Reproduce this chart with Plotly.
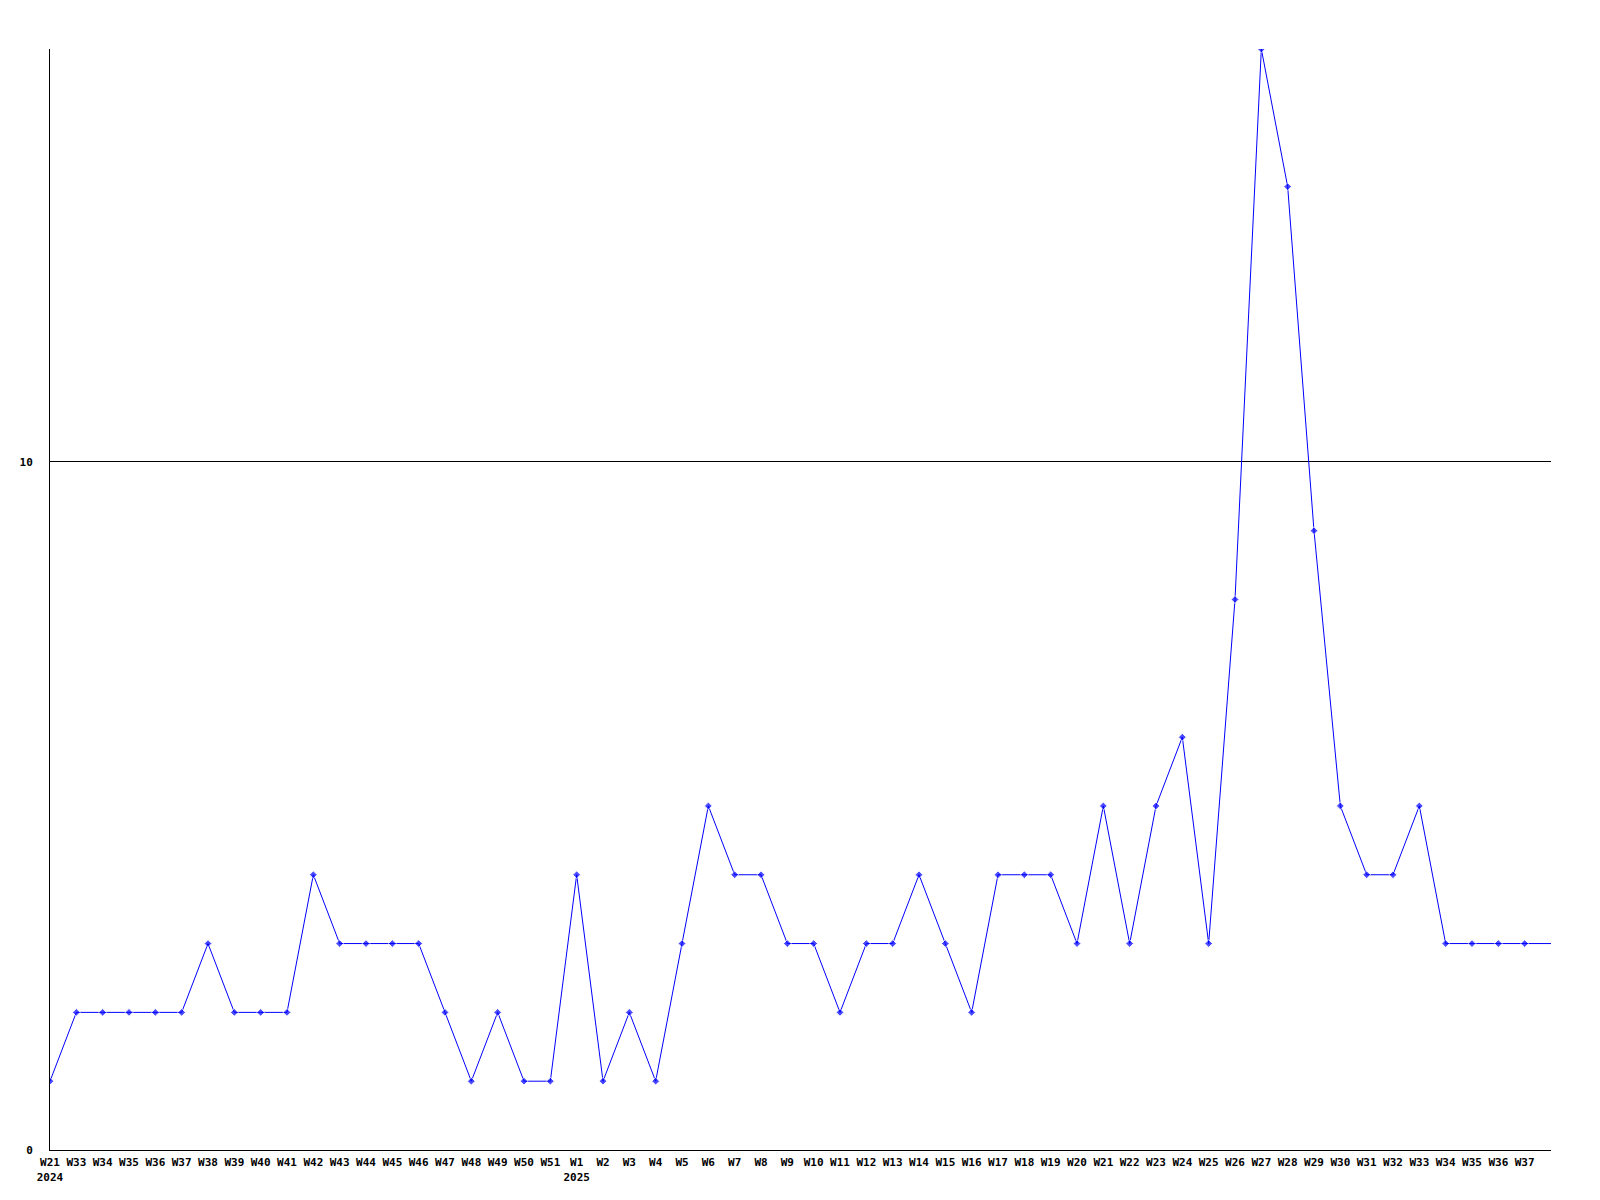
import plotly.graph_objects as go

weeks = ["W21", "W33", "W34", "W35", "W36", "W37", "W38", "W39", "W40", "W41",
         "W42", "W43", "W44", "W45", "W46", "W47", "W48", "W49", "W50", "W51",
         "W1", "W2", "W3", "W4", "W5", "W6", "W7", "W8", "W9", "W10",
         "W11", "W12", "W13", "W14", "W15", "W16", "W17", "W18", "W19", "W20",
         "W21", "W22", "W23", "W24", "W25", "W26", "W27", "W28", "W29", "W30",
         "W31", "W32", "W33", "W34", "W35", "W36", "W37", "W38"]
years = {0: "2024", 20: "2025"}
values = [1, 2, 2, 2, 2, 2, 3, 2, 2, 2,
          4, 3, 3, 3, 3, 2, 1, 2, 1, 1,
          4, 1, 2, 1, 3, 5, 4, 4, 3, 3,
          2, 3, 3, 4, 3, 2, 4, 4, 4, 3,
          5, 3, 5, 6, 3, 8, 16, 14, 9, 5,
          4, 4, 5, 3, 3, 3, 3, 3]
# last entry is the current (partial) week: drawn as line only, no marker/label
labelled = len(weeks) - 1

x = list(range(len(values)))
ticktext = [w + ("<br>" + years[i] if i in years else "") for i, w in enumerate(weeks[:labelled])]
sizes = [6] * labelled + [0]

fig = go.Figure()
fig.add_trace(go.Scatter(
    x=x, y=values, mode="lines+markers",
    line=dict(color="#0000ff", width=1),
    marker=dict(symbol="diamond", size=sizes, color="#0000ff"),
    hoverinfo="skip",
))

font = dict(family="DejaVu Sans Mono", size=11, color="black", weight="bold")
fig.update_layout(
    width=1600, height=1200,
    paper_bgcolor="white", plot_bgcolor="white",
    margin=dict(l=42, r=57, t=41, b=58, pad=0),
    showlegend=False,
    xaxis=dict(
        range=[0, len(values) - 1], tickmode="array",
        tickvals=x[:labelled], ticktext=ticktext,
        showgrid=False, zeroline=False,
        showline=True, linecolor="black", linewidth=1,
        ticks="", tickfont=font, tickangle=0, ticklabelstandoff=2,
    ),
    yaxis=dict(
        range=[0, 16], tickmode="array", tickvals=[0, 10], ticktext=["0", "10"],
        showgrid=True, gridcolor="black", gridwidth=1,
        zeroline=False, showline=True, linecolor="black", linewidth=1,
        ticks="outside", ticklen=14, tickcolor="white", tickfont=font,
    ),
)
fig.write_html("out.html")
